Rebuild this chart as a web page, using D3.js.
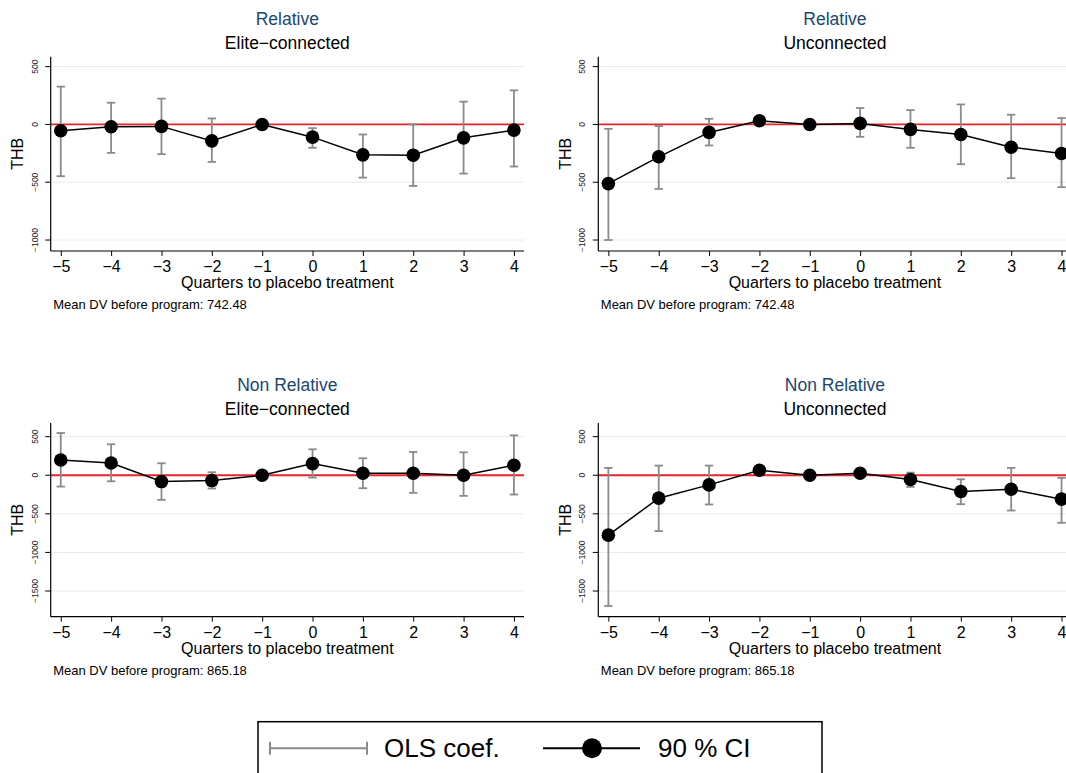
<!DOCTYPE html>
<html>
<head>
<meta charset="utf-8">
<script src="https://cdn.jsdelivr.net/npm/d3@7"></script>
<style>
  html, body { margin: 0; padding: 0; background: #fff; }
  svg { display: block; font-family: "Liberation Sans", Arial, Helvetica, sans-serif; }
</style>
</head>
<body>
<svg id="chart" width="1066" height="773"></svg>
<script>
// ---------------- DATA ----------------
const quarters = [-5, -4, -3, -2, -1, 0, 1, 2, 3, 4];
const groupTitles = ["Relative", "Relative", "Non Relative", "Non Relative"];
const connTitles = ["Elite\u2212connected", "Unconnected", "Elite\u2212connected", "Unconnected"];
const meanDV = ["742.48", "742.48", "865.18", "865.18"];
const xTitle = "Quarters to placebo treatment";
const yTitle = "THB";
const yTicksTop = [-1000, -500, 0, 500];
const yTicksBottom = [-1500, -1000, -500, 0, 500];
const legendLabels = ["OLS coef.", "90 % CI"];

// Relative, Elite-connected
const coefRelElite = [-55, -20, -17, -142, 0, -110, -263, -266, -116, -49];
const loRelElite   = [-448, -246, -257, -324, null, -202, -460, -532, -425, -364];
const hiRelElite   = [327, 188, 223, 52, null, -32, -87, 0, 197, 295];
// Relative, Unconnected
const coefRelUnc = [-512, -280, -69, 32, 0, 9, -43, -87, -197, -251];
const loRelUnc   = [-1000, -558, -182, 14, null, -107, -202, -344, -465, -543];
const hiRelUnc   = [-38, -14, 49, 50, null, 142, 124, 173, 84, 55];
// Non Relative, Elite-connected
const coefNonElite = [198, 159, -82, -69, 0, 151, 26, 26, 0, 129];
const loNonElite   = [-147, -78, -319, -172, null, -30, -168, -228, -267, -250];
const hiNonElite   = [547, 401, 155, 39, null, 336, 220, 302, 297, 517];
// Non Relative, Unconnected
const coefNonUnc = [-776, -297, -125, 65, 0, 26, -56, -211, -181, -310];
const loNonUnc   = [-1694, -724, -379, 47, null, 6, -151, -375, -457, -616];
const hiNonUnc   = [95, 125, 125, 83, null, 46, 34, -52, 95, -34];

const panelCoef = [coefRelElite, coefRelUnc, coefNonElite, coefNonUnc];
const panelLo = [loRelElite, loRelUnc, loNonElite, loNonUnc];
const panelHi = [hiRelElite, hiRelUnc, hiNonElite, hiNonUnc];

// ---------------- LAYOUT ----------------
const svg = d3.select("#chart");
const FONT = "\"Liberation Sans\", Arial, Helvetica, sans-serif";
const titleColor = "#1a476f";
const ciColor = "#8a8a8a";
const gridColor = "#e3ecef";
const zeroColor = "#e8232a";

const colLeft = [50.7, 598.3];
const plotW = 473.3;
const rows = [
  { top: 56.7, bottom: 251, domain: [-1095, 586], ticks: yTicksTop },
  { top: 423, bottom: 616.7, domain: [-1833, 677], ticks: yTicksBottom }
];
const rowOffset = [0, 366];

for (let p = 0; p < 4; p++) {
  const col = p % 2, rowI = Math.floor(p / 2);
  const row = rows[rowI];
  const left = colLeft[col], right = left + plotW;
  const dy = rowOffset[rowI];
  const x = d3.scaleLinear().domain([-5.2, 4.2]).range([left, right]);
  const y = d3.scaleLinear().domain(row.domain).range([row.bottom, row.top]);
  const g = svg.append("g");
  const cx = (left + right) / 2;

  // titles
  g.append("text").attr("x", cx).attr("y", 25 + dy).attr("text-anchor", "middle")
    .attr("font-size", 17.5).attr("fill", titleColor).text(groupTitles[p]);
  g.append("text").attr("x", cx).attr("y", 49 + dy).attr("text-anchor", "middle")
    .attr("font-size", 17.5).attr("fill", "#000").text(connTitles[p]);

  // gridlines
  g.selectAll(".grid").data(row.ticks).join("line")
    .attr("x1", left).attr("x2", right)
    .attr("y1", d => y(d)).attr("y2", d => y(d))
    .attr("stroke", gridColor).attr("stroke-width", 1);

  // zero line
  g.append("line").attr("x1", left).attr("x2", right)
    .attr("y1", y(0)).attr("y2", y(0))
    .attr("stroke", zeroColor).attr("stroke-width", 1.8);

  // CI bars
  const ciData = quarters.map((q, i) => ({ q, lo: panelLo[p][i], hi: panelHi[p][i] }))
    .filter(d => d.lo !== null);
  const capW = 4.2;
  const ci = g.append("g").attr("stroke", ciColor).attr("stroke-width", 1.8).attr("fill", "none");
  ci.selectAll(".v").data(ciData).join("line")
    .attr("x1", d => x(d.q)).attr("x2", d => x(d.q))
    .attr("y1", d => y(d.lo)).attr("y2", d => y(d.hi));
  ci.selectAll(".c1").data(ciData).join("line")
    .attr("x1", d => x(d.q) - capW).attr("x2", d => x(d.q) + capW)
    .attr("y1", d => y(d.lo)).attr("y2", d => y(d.lo));
  ci.selectAll(".c2").data(ciData).join("line")
    .attr("x1", d => x(d.q) - capW).attr("x2", d => x(d.q) + capW)
    .attr("y1", d => y(d.hi)).attr("y2", d => y(d.hi));

  // coefficient line + markers
  const pts = quarters.map((q, i) => ({ q, v: panelCoef[p][i] }));
  g.append("path").datum(pts)
    .attr("d", d3.line().x(d => x(d.q)).y(d => y(d.v)))
    .attr("fill", "none").attr("stroke", "#000").attr("stroke-width", 1.5);
  g.selectAll(".pt").data(pts).join("circle")
    .attr("cx", d => x(d.q)).attr("cy", d => y(d.v)).attr("r", 6.8)
    .attr("fill", "#000");

  // y axis
  g.append("line").attr("x1", left).attr("x2", left).attr("y1", row.top).attr("y2", row.bottom)
    .attr("stroke", "#000").attr("stroke-width", 1.2);
  g.selectAll(".yt").data(row.ticks).join("line")
    .attr("x1", left - 5.5).attr("x2", left)
    .attr("y1", d => y(d)).attr("y2", d => y(d))
    .attr("stroke", "#000").attr("stroke-width", 1);
  g.selectAll(".yl").data(row.ticks).join("text")
    .attr("transform", d => `translate(${left - 13},${y(d)}) rotate(-90)`)
    .attr("text-anchor", "middle").attr("font-size", 8.5).attr("fill", "#222")
    .text(d => d3.format("")(d).replace("-", "\u2212"));
  g.append("text")
    .attr("transform", `translate(${left - 27.5},${(row.top + row.bottom) / 2}) rotate(-90)`)
    .attr("text-anchor", "middle").attr("font-size", 16).attr("fill", "#000").text(yTitle);

  // x axis
  const xAxis = d3.axisBottom(x).tickValues(quarters).tickSize(5).tickPadding(4.6)
    .tickSizeOuter(0).tickFormat(d3.format(""));
  const xa = g.append("g").attr("transform", `translate(0,${row.bottom})`).call(xAxis);
  xa.select(".domain").remove();
  xa.selectAll(".tick line").attr("stroke", "#000").attr("stroke-width", 1);
  xa.selectAll(".tick text").attr("font-size", 16).attr("font-family", FONT).attr("fill", "#000");
  g.append("line").attr("x1", left).attr("x2", right).attr("y1", row.bottom).attr("y2", row.bottom)
    .attr("stroke", "#000").attr("stroke-width", 1.2);

  g.append("text").attr("x", cx).attr("y", 288 + dy).attr("text-anchor", "middle")
    .attr("font-size", 16).attr("fill", "#000").text(xTitle);
  g.append("text").attr("x", left + 2.5).attr("y", 308.5 + dy)
    .attr("font-size", 13).attr("fill", "#000").text("Mean DV before program: " + meanDV[p]);
}

// ---------------- LEGEND ----------------
const lg = svg.append("g");
lg.append("rect").attr("x", 258).attr("y", 721.7).attr("width", 564).attr("height", 80)
  .attr("fill", "#fff").attr("stroke", "#000").attr("stroke-width", 1.5);
const ly = 748.3;
lg.append("line").attr("x1", 270).attr("x2", 367).attr("y1", ly).attr("y2", ly)
  .attr("stroke", ciColor).attr("stroke-width", 2);
[270, 367].forEach(xx => lg.append("line").attr("x1", xx).attr("x2", xx)
  .attr("y1", ly - 6.5).attr("y2", ly + 6.5).attr("stroke", ciColor).attr("stroke-width", 2));
lg.append("text").attr("x", 384).attr("y", 757).attr("font-size", 26).attr("fill", "#000").text(legendLabels[0]);
lg.append("line").attr("x1", 543).attr("x2", 640).attr("y1", ly).attr("y2", ly)
  .attr("stroke", "#000").attr("stroke-width", 2);
lg.append("circle").attr("cx", 592).attr("cy", ly).attr("r", 10).attr("fill", "#000");
lg.append("text").attr("x", 658).attr("y", 757).attr("font-size", 26).attr("fill", "#000").text(legendLabels[1]);
</script>
</body>
</html>
